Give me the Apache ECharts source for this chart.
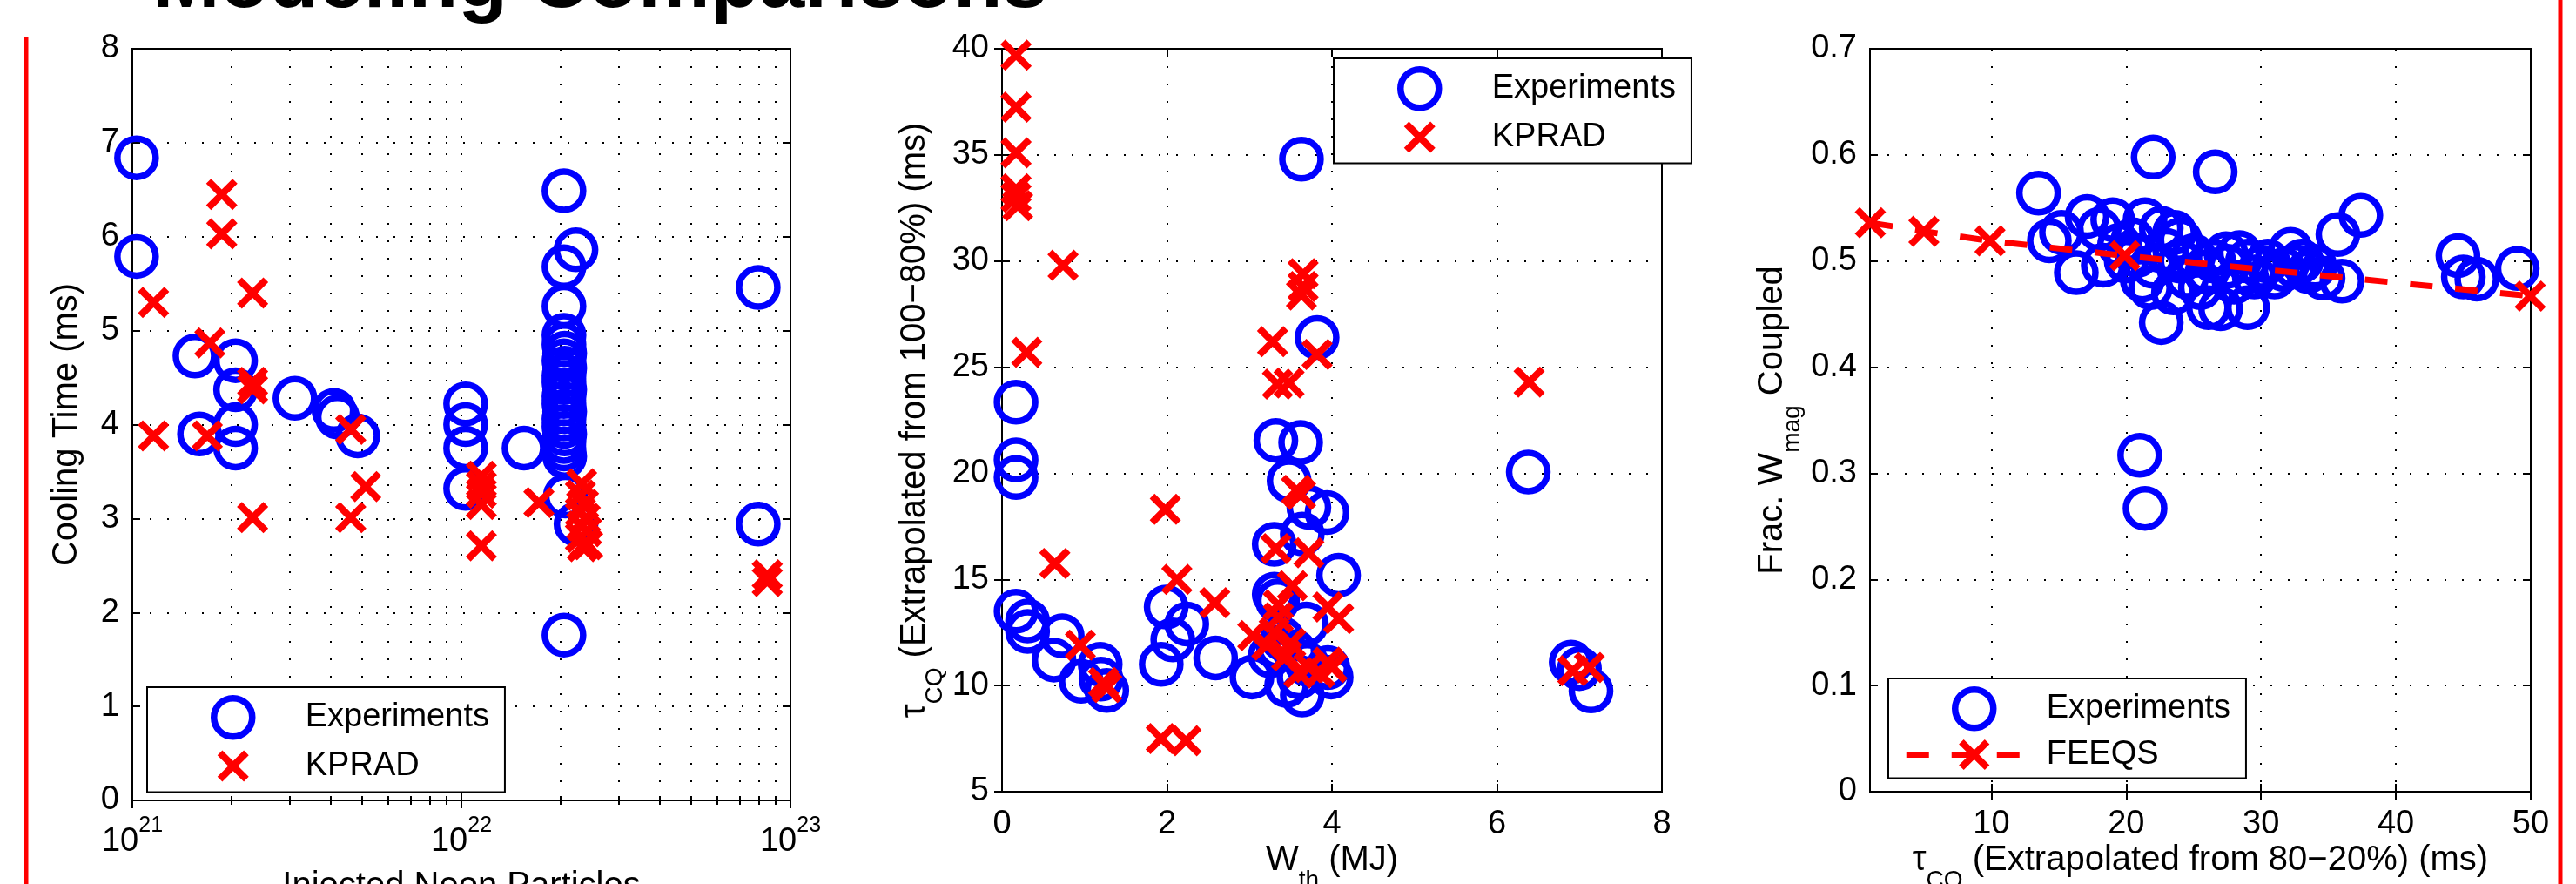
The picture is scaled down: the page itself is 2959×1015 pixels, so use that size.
<!DOCTYPE html>
<html><head><meta charset="utf-8">
<script src="https://cdn.jsdelivr.net/npm/echarts@6/dist/echarts.min.js"></script>
<style>html,body{margin:0;padding:0;background:#fff;}#c{width:2959px;height:1015px;}</style>
</head><body><div id="c"></div>
<script>
const titleText = 'Modeling Comparisons';

// ---- Panel 1: Injected Neon Particles vs Cooling Time ----
const p1XTitle = 'Injected Neon Particles';
const p1YTitle = 'Cooling Time (ms)';
const p1Experiments = [
  [1.03e21,6.84],[1.03e21,5.79],[1.55e21,4.73],[1.6e21,3.9],
  [2.06e21,4.68],[2.06e21,4.37],[2.06e21,4.0],[2.06e21,3.75],
  [3.12e21,4.28],[4.1e21,4.15],[4.2e21,4.08],[4.84e21,3.88],
  [1.03e22,4.22],[1.03e22,4.0],[1.03e22,3.75],[1.03e22,3.32],
  [1.55e22,3.75],
  [2.05e22,6.49],[2.23e22,5.86],[2.05e22,5.68],[2.05e22,5.26],
  [2.05e22,4.95],[2.05e22,4.85],[2.06e22,4.76],[2.05e22,4.68],[2.06e22,4.6],[2.05e22,4.52],
  [2.05e22,4.45],[2.06e22,4.37],[2.05e22,4.3],[2.05e22,4.22],[2.06e22,4.14],[2.05e22,4.06],
  [2.05e22,3.98],[2.06e22,3.9],[2.05e22,3.82],[2.05e22,3.74],[2.06e22,3.66],
  [2.07e22,3.24],[2.23e22,2.94],[2.05e22,1.76],
  [7.98e22,5.46],[7.98e22,2.94]
];
const p1Kprad = [
  [1.16e21,5.3],[1.16e21,3.88],[1.87e21,6.45],[1.87e21,6.03],[1.72e21,4.87],[1.69e21,3.88],
  [2.32e21,5.4],[2.32e21,4.45],[2.32e21,4.38],[2.32e21,3.01],
  [4.61e21,3.95],[4.61e21,3.01],[5.12e21,3.34],
  [1.15e22,3.45],[1.15e22,3.35],[1.15e22,3.27],[1.15e22,3.15],[1.15e22,2.71],
  [1.72e22,3.17],
  [2.32e22,3.37],[2.3e22,3.25],[2.35e22,3.15],[2.3e22,3.07],[2.38e22,3.0],[2.32e22,2.92],
  [2.4e22,2.86],[2.3e22,2.8],[2.38e22,2.74],[2.33e22,2.7],[2.42e22,2.72],
  [8.5e22,2.4],[8.5e22,2.33]
];
const p1XRange = [1e21, 1e23];
const p1YRange = [0, 8];

// ---- Panel 2: W_th vs tau_CQ (100-80%) ----
const p2Experiments = [
  [3.63,34.8],[3.82,26.4],[0.17,23.35],[3.32,21.55],[3.62,21.45],[0.17,20.63],[0.17,19.8],
  [6.38,20.06],[3.48,19.65],[3.72,18.4],[3.94,18.15],[3.64,17.14],[3.3,16.65],[4.08,15.2],
  [3.3,14.3],[3.34,14.0],[0.17,13.5],[0.31,13.04],[0.31,12.55],[0.73,12.34],[0.63,11.2],
  [0.96,10.2],[1.19,11.0],[1.2,10.3],[1.27,9.77],[1.99,13.7],[2.24,12.9],[2.07,12.15],
  [1.93,11.0],[2.59,11.3],[3.03,10.4],[3.25,11.4],[3.69,12.9],[3.45,10.0],[3.64,9.55],
  [3.99,10.4],[3.95,10.85],[6.9,11.1],[7.0,10.8],[7.14,9.75],
  [3.4,12.2],[3.55,11.6],[3.7,11.0],[3.35,11.8],[3.6,10.4]
];
const p2Kprad = [
  [0.17,39.7],[0.17,37.25],[0.17,35.1],[0.17,33.4],[0.17,33.0],[0.19,32.6],[0.74,29.8],
  [0.3,25.7],[3.65,29.4],[3.65,28.8],[3.63,28.4],[3.28,26.2],[3.82,25.6],[3.34,24.2],
  [3.48,24.25],[6.39,24.3],[1.98,18.3],[0.64,15.75],[2.12,15.0],[2.58,13.9],[0.95,11.9],
  [1.23,10.15],[1.27,9.9],[1.93,7.5],[2.23,7.4],[3.57,19.2],[3.62,19.0],[3.32,16.45],
  [3.72,16.25],[3.52,14.7],[3.35,13.8],[3.35,13.2],[3.95,13.7],[4.08,13.15],[3.04,12.35],
  [3.21,11.9],[3.45,11.4],[3.72,10.85],[3.6,10.6],[4.0,10.85],[3.95,11.1],[6.92,10.7],
  [7.12,10.85],[3.3,12.5],[3.5,12.0],[3.85,10.6]
];
const p2XRange = [0, 8];
const p2YRange = [5, 40];

// ---- Panel 3: tau_CQ (80-20%) vs Frac. W_mag coupled ----
const p3Experiments = [
  [22.0,0.598],[26.6,0.584],[13.5,0.564],[37.4,0.543],[35.7,0.525],[14.3,0.519],[15.2,0.527],
  [17.1,0.542],[19.0,0.539],[21.4,0.539],[22.6,0.531],[23.6,0.527],[16.3,0.489],[18.3,0.496],
  [22.6,0.442],[26.1,0.456],[27.0,0.455],[29.0,0.456],[21.2,0.482],[21.8,0.475],[32.2,0.511],
  [31.7,0.492],[34.6,0.484],[36.0,0.481],[44.6,0.505],[45.0,0.485],[46.0,0.483],[49.0,0.493],
  [27.4,0.507],[28.4,0.508],[30.0,0.494],[21.0,0.317],[21.4,0.267],
  [20.5,0.52],[23.0,0.51],[24.0,0.5],[25.0,0.505],[22.0,0.495],[24.5,0.485],[26.0,0.49],
  [27.5,0.495],[29.0,0.5],[30.5,0.5],[31.0,0.485],[32.5,0.495],[33.5,0.49],[25.5,0.475],
  [28.0,0.48],[23.5,0.47],[20.0,0.5],[19.5,0.515],[18.0,0.53],[24.0,0.52],[26.5,0.5],
  [29.5,0.485],[33.0,0.5],[34.0,0.495],[20.8,0.505]
];
const p3Feeqs = [[1.03,0.536],[5.0,0.528],[9.9,0.519],[19.9,0.505],[49.96,0.467]];
const p3XRange = [1, 50];
const p3XTicks = [10, 20, 30, 40, 50];
const p3YRange = [0, 0.7];

// ---------------------------------------------------------------
const FONT = 'Liberation Sans';
const X_PATH = 'path://M18.6,0L59.3,40.7L100,0L118.6,18.6L77.9,59.3L118.6,100L100,118.6L59.3,77.9L18.6,118.6L0,100L40.7,59.3L0,18.6Z';
// legend icons laid out over the full 156x44 legend icon box
const LEG_X = 'path://M0,0M156,44M65.65,4L78,16.35L90.35,4L96,9.65L83.65,22L96,34.35L90.35,40L78,27.65L65.65,40L60,34.35L72.35,22L60,9.65Z';
const LEG_O = 'path://M0,0M156,44M100,22A22,22,0,1,1,56,22A22,22,0,1,1,100,22Z';
const BLUE = '#0000ff', RED = '#ff0000';
const dotted = {color:'#000', width:2, type:[2,18]};
const lineBlack = {show:true, lineStyle:{color:'#000', width:2}};
const tickIn = {show:true, inside:true, length:9, lineStyle:{color:'#000', width:2}};
const labelStyle = {color:'#000', fontFamily:FONT, fontSize:38};
const nameRich = {
  t:{fontFamily:FONT, fontSize:40, lineHeight:40, verticalAlign:'top', color:'#000'},
  s:{fontFamily:FONT, fontSize:28, lineHeight:28, verticalAlign:'top', color:'#000', padding:[29,0,0,0]}
};

function mirror(base, pos) {
  return Object.assign({}, base, {
    position: pos, name: '', axisLabel:{show:false}, splitLine:{show:false},
    minorSplitLine:{show:false}
  });
}

const x1 = {
  gridIndex:0, type:'log', logBase:10, min:p1XRange[0], max:p1XRange[1],
  axisLine:lineBlack, axisTick:tickIn,
  minorTick:{show:true, splitNumber:9, length:5, lineStyle:{color:'#000', width:2}},
  splitLine:{show:true, lineStyle:dotted},
  minorSplitLine:{show:true, lineStyle:dotted},
  axisLabel:{margin:17, formatter:v => '{b|10}{s|' + Math.round(Math.log10(v)) + '}',
    rich:{
      b:{fontFamily:FONT, fontSize:38, lineHeight:38, color:'#000', padding:[12,0,0,0], verticalAlign:'top'},
      s:{fontFamily:FONT, fontSize:25, lineHeight:25, color:'#000', verticalAlign:'top'}
    }},
  name:'{t|' + p1XTitle + '}', nameLocation:'middle', nameGap:79, nameMoveOverlap:false,
  nameTextStyle:{rich:nameRich}
};
const y1 = {
  gridIndex:0, type:'value', min:p1YRange[0], max:p1YRange[1], interval:1,
  axisLine:lineBlack, axisTick:tickIn, splitLine:{show:true, lineStyle:dotted},
  axisLabel:Object.assign({margin:15}, labelStyle),
  name:'{t|' + p1YTitle + '}', nameLocation:'middle', nameRotate:90, nameGap:55, nameMoveOverlap:false,
  nameTextStyle:{rich:nameRich}
};
const x2 = {
  gridIndex:1, type:'value', min:p2XRange[0], max:p2XRange[1], interval:2,
  axisLine:lineBlack, axisTick:tickIn, splitLine:{show:true, lineStyle:dotted},
  axisLabel:Object.assign({margin:19}, labelStyle),
  name:'{t|W}{s|th}{t| (MJ)}', nameLocation:'middle', nameGap:59, nameMoveOverlap:false,
  nameTextStyle:{rich:nameRich}
};
const y2 = {
  gridIndex:1, type:'value', min:p2YRange[0], max:p2YRange[1], interval:5,
  axisLine:lineBlack, axisTick:tickIn, splitLine:{show:true, lineStyle:dotted},
  axisLabel:Object.assign({margin:15}, labelStyle),
  name:'{t|τ}{s|CQ}{t| (Extrapolated from 100−80%) (ms)}', nameLocation:'middle', nameRotate:90,
  nameGap:80, nameMoveOverlap:false, nameTextStyle:{rich:nameRich}
};
const x3 = {
  gridIndex:2, type:'value', min:p3XRange[0], max:p3XRange[1],
  axisLine:lineBlack, axisTick:Object.assign({customValues:p3XTicks}, tickIn),
  splitLine:{show:true, lineStyle:dotted},
  axisLabel:Object.assign({margin:19, customValues:p3XTicks}, labelStyle),
  name:'{t|τ}{s|CQ}{t| (Extrapolated from 80−20%) (ms)}', nameLocation:'middle', nameGap:59,
  nameMoveOverlap:false, nameTextStyle:{rich:nameRich}
};
const y3 = {
  gridIndex:2, type:'value', min:p3YRange[0], max:p3YRange[1], interval:0.1,
  axisLine:lineBlack, axisTick:tickIn, splitLine:{show:true, lineStyle:dotted},
  axisLabel:Object.assign({margin:15}, labelStyle),
  name:'{t|Frac. W}{s|mag}{t| Coupled}', nameLocation:'middle', nameRotate:90, nameGap:92,
  nameMoveOverlap:false, nameTextStyle:{rich:nameRich}
};

const ringStyle = {color:'rgba(0,0,0,0)', borderColor:BLUE, borderWidth:7.5, opacity:1};
const circleSeries = (xi, yi, data) => ({
  type:'scatter', name:'Experiments', xAxisIndex:xi, yAxisIndex:yi, data:data,
  symbol:'circle', symbolSize:44, itemStyle:ringStyle, emphasis:{disabled:true}, silent:true, clip:false
});
const crossSeries = (xi, yi, data) => ({
  type:'scatter', name:'KPRAD', xAxisIndex:xi, yAxisIndex:yi, data:data,
  symbol:X_PATH, symbolSize:36, itemStyle:{color:RED, opacity:1}, emphasis:{disabled:true}, silent:true, clip:false
});

const legendBase = {
  orient:'vertical', itemWidth:156, itemHeight:44, itemGap:8, padding:[9,18,8,17],
  borderColor:'#000', borderWidth:2, backgroundColor:'#fff', selectedMode:false,
  textStyle:{fontFamily:FONT, fontSize:38, color:'#000'}, lineStyle:{width:7}
};
const expLegend = {name:'Experiments', icon:LEG_O, itemStyle:ringStyle};
const kpradLegend = {name:'KPRAD', icon:LEG_X, itemStyle:{color:RED, borderWidth:0}};

const gridBase = {show:true, borderColor:'#000', borderWidth:2, backgroundColor:'rgba(0,0,0,0)',
  containLabel:false, outerBoundsMode:'none'};

const option = {
  animation:false,
  backgroundColor:'#fff',
  grid:[
    Object.assign({left:152, top:56, width:756, height:863}, gridBase),
    Object.assign({left:1151, top:56, width:758, height:853}, gridBase),
    Object.assign({left:2148, top:56, width:759, height:853}, gridBase)
  ],
  xAxis:[x1, mirror(x1,'top'), x2, mirror(x2,'top'), x3, mirror(x3,'top')],
  yAxis:[y1, mirror(y1,'right'), y2, mirror(y2,'right'), y3, mirror(y3,'right')],
  legend:[
    Object.assign({left:169, top:789, data:[expLegend, kpradLegend]}, legendBase),
    Object.assign({left:1532, top:67, data:[expLegend, kpradLegend]}, legendBase),
    Object.assign({left:2169, top:779, data:[expLegend, {name:'FEEQS'}]}, legendBase)
  ],
  series:[
    circleSeries(0,0,p1Experiments),
    crossSeries(0,0,p1Kprad),
    circleSeries(2,2,p2Experiments),
    crossSeries(2,2,p2Kprad),
    circleSeries(4,4,p3Experiments),
    {type:'line', name:'FEEQS', xAxisIndex:4, yAxisIndex:4, data:p3Feeqs,
     symbol:X_PATH, symbolSize:36, showAllSymbol:true, itemStyle:{color:RED, opacity:1},
     lineStyle:{color:RED, width:7, type:[26,26], opacity:1}, emphasis:{disabled:true}, silent:true, clip:false}
  ],
  graphic:[
    {type:'text', x:175, y:-18, silent:true,
     style:{text:titleText, font:'bold 93px "Liberation Sans"', fill:'#000', textAlign:'left', textVerticalAlign:'middle', align:'left', verticalAlign:'middle'}},
    {type:'line', silent:true, shape:{x1:30, y1:42, x2:30, y2:1015}, style:{stroke:RED, lineWidth:5}},
    {type:'line', silent:true, shape:{x1:2941, y1:0, x2:2941, y2:1015}, style:{stroke:RED, lineWidth:5}}
  ]
};

const chart = echarts.init(document.getElementById('c'), null, {renderer:'canvas'});
chart.setOption(option);
</script>
</body></html>
